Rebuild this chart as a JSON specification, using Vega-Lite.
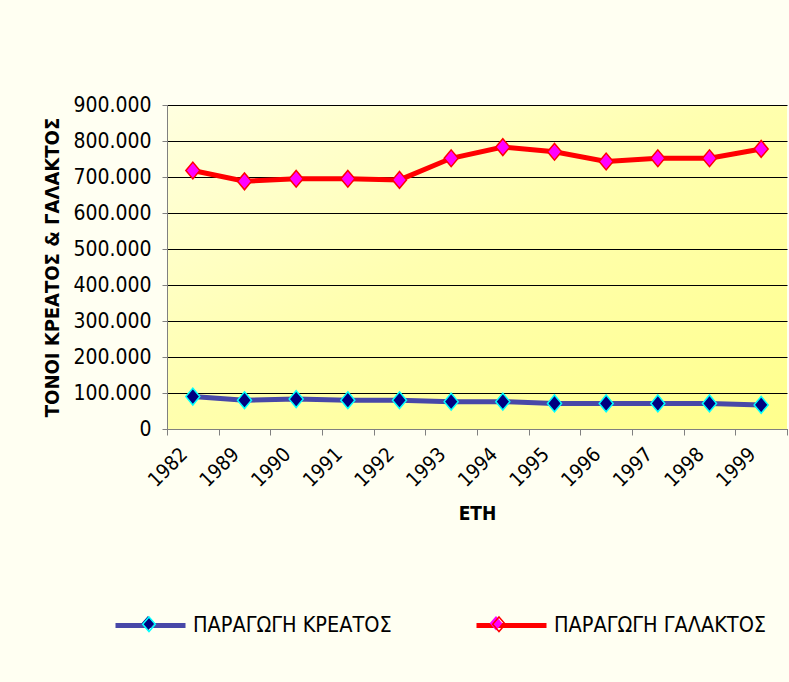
{
  "$schema": "https://vega.github.io/schema/vega-lite/v6.json",
  "autosize": {"type": "none"},
  "width": 620,
  "height": 324,
  "padding": {"left": 167, "top": 105, "right": 2, "bottom": 253},
  "background": "#fffff2",
  "config": {
    "locale": {"number": {"decimal": ",", "thousands": ".", "grouping": [3], "currency": ["", " €"]}},
    "font": "DejaVu Sans Condensed",
    "view": {
      "stroke": null,
      "fill": {"gradient": "linear", "x1": 0, "y1": 0, "x2": 1, "y2": 1,
        "stops": [{"offset": 0, "color": "#ffffe0"}, {"offset": 0.45, "color": "#ffffb0"}, {"offset": 1, "color": "#ffff8c"}]}
    }
  },
  "data": {"values": [
    {"year": "1982", "series": "ΠΑΡΑΓΩΓΗ ΚΡΕΑΤΟΣ", "value": 90000},
    {"year": "1989", "series": "ΠΑΡΑΓΩΓΗ ΚΡΕΑΤΟΣ", "value": 80000},
    {"year": "1990", "series": "ΠΑΡΑΓΩΓΗ ΚΡΕΑΤΟΣ", "value": 83000},
    {"year": "1991", "series": "ΠΑΡΑΓΩΓΗ ΚΡΕΑΤΟΣ", "value": 80000},
    {"year": "1992", "series": "ΠΑΡΑΓΩΓΗ ΚΡΕΑΤΟΣ", "value": 80000},
    {"year": "1993", "series": "ΠΑΡΑΓΩΓΗ ΚΡΕΑΤΟΣ", "value": 76000},
    {"year": "1994", "series": "ΠΑΡΑΓΩΓΗ ΚΡΕΑΤΟΣ", "value": 76000},
    {"year": "1995", "series": "ΠΑΡΑΓΩΓΗ ΚΡΕΑΤΟΣ", "value": 71000},
    {"year": "1996", "series": "ΠΑΡΑΓΩΓΗ ΚΡΕΑΤΟΣ", "value": 71000},
    {"year": "1997", "series": "ΠΑΡΑΓΩΓΗ ΚΡΕΑΤΟΣ", "value": 71000},
    {"year": "1998", "series": "ΠΑΡΑΓΩΓΗ ΚΡΕΑΤΟΣ", "value": 71000},
    {"year": "1999", "series": "ΠΑΡΑΓΩΓΗ ΚΡΕΑΤΟΣ", "value": 67000},
    {"year": "1982", "series": "ΠΑΡΑΓΩΓΗ ΓΑΛΑΚΤΟΣ", "value": 718000},
    {"year": "1989", "series": "ΠΑΡΑΓΩΓΗ ΓΑΛΑΚΤΟΣ", "value": 688000},
    {"year": "1990", "series": "ΠΑΡΑΓΩΓΗ ΓΑΛΑΚΤΟΣ", "value": 695000},
    {"year": "1991", "series": "ΠΑΡΑΓΩΓΗ ΓΑΛΑΚΤΟΣ", "value": 695000},
    {"year": "1992", "series": "ΠΑΡΑΓΩΓΗ ΓΑΛΑΚΤΟΣ", "value": 692000},
    {"year": "1993", "series": "ΠΑΡΑΓΩΓΗ ΓΑΛΑΚΤΟΣ", "value": 752000},
    {"year": "1994", "series": "ΠΑΡΑΓΩΓΗ ΓΑΛΑΚΤΟΣ", "value": 783000},
    {"year": "1995", "series": "ΠΑΡΑΓΩΓΗ ΓΑΛΑΚΤΟΣ", "value": 770000},
    {"year": "1996", "series": "ΠΑΡΑΓΩΓΗ ΓΑΛΑΚΤΟΣ", "value": 743000},
    {"year": "1997", "series": "ΠΑΡΑΓΩΓΗ ΓΑΛΑΚΤΟΣ", "value": 752000},
    {"year": "1998", "series": "ΠΑΡΑΓΩΓΗ ΓΑΛΑΚΤΟΣ", "value": 752000},
    {"year": "1999", "series": "ΠΑΡΑΓΩΓΗ ΓΑΛΑΚΤΟΣ", "value": 778000}
  ]},
  "encoding": {
    "x": {
      "field": "year", "type": "ordinal", "sort": null, "bandPosition": 0.5,
      "scale": {"type": "band", "paddingInner": 0, "paddingOuter": 0},
      "axis": {
        "title": "ΕΤΗ", "titleFont": "DejaVu Sans Condensed", "titleFontSize": 19, "titleFontWeight": "bold", "titleColor": "#000000",
        "titleY": 84, "titleBaseline": "middle",
        "labelAngle": -45, "labelAlign": "right", "labelBaseline": "middle", "labelOffset": -9,
        "labelFont": "DejaVu Sans Condensed", "labelFontSize": 20, "labelColor": "#000000", "labelPadding": 16,
        "tickBand": "extent", "tickSize": 6, "tickColor": "#808080", "domainColor": "#808080", "grid": false
      }
    },
    "y": {
      "field": "value", "type": "quantitative",
      "scale": {"domain": [0, 900000], "nice": false},
      "axis": {
        "title": "ΤΟΝΟΙ ΚΡΕΑΤΟΣ & ΓΑΛΑΚΤΟΣ", "titleFont": "DejaVu Sans Condensed", "titleFontSize": 20, "titleFontWeight": "bold", "titleColor": "#000000",
        "titleX": -115, "titleBaseline": "middle",
        "values": [0, 100000, 200000, 300000, 400000, 500000, 600000, 700000, 800000, 900000],
        "tickCount": 12,
        "format": ",d", "labelOverlap": false, "labelFlush": false,
        "labelFont": "DejaVu Sans Condensed", "labelFontSize": 21, "labelColor": "#000000", "labelPadding": 11,
        "tickSize": 5, "tickColor": "#808080", "domainColor": "#808080",
        "grid": true, "gridColor": "#000000", "gridWidth": 1
      }
    }
  },
  "layer": [
    {
      "mark": {"type": "line", "strokeWidth": 5},
      "encoding": {
        "color": {
          "field": "series", "type": "nominal",
          "scale": {"domain": ["ΠΑΡΑΓΩΓΗ ΚΡΕΑΤΟΣ", "ΠΑΡΑΓΩΓΗ ΓΑΛΑΚΤΟΣ"], "range": ["#4848a8", "#ff0000"]},
          "legend": {
            "orient": "none", "legendX": -54, "legendY": 483, "direction": "horizontal", "title": null,
            "symbolType": "stroke", "symbolSize": 4900, "symbolStrokeWidth": 5,
            "labelFont": "DejaVu Sans Condensed", "labelFontSize": 21.5, "labelColor": "#000000", "labelOffset": 5, "labelLimit": 400,
            "columnPadding": 74, "padding": 0
          }
        }
      }
    },
    {
      "mark": {"type": "point", "filled": true, "shape": "M0,-1.2L1,0L0,1.2L-1,0Z", "size": 196, "strokeWidth": 1.5, "opacity": 1},
      "encoding": {
        "fill": {
          "field": "series", "type": "nominal", "sort": ["ΠΑΡΑΓΩΓΗ ΚΡΕΑΤΟΣ", "ΠΑΡΑΓΩΓΗ ΓΑΛΑΚΤΟΣ"],
          "scale": {"range": ["#000080", "#ff00ff"]},
          "legend": {
            "orient": "none", "legendX": -54, "legendY": 483, "direction": "horizontal", "title": null,
            "symbolType": "M0,-0.21L0.18,0L0,0.21L-0.18,0Z", "symbolSize": 4900, "symbolStrokeWidth": 0,
            "symbolStrokeColor": "transparent",
            "labelFont": "DejaVu Sans Condensed", "labelFontSize": 21.5, "labelOpacity": 0, "labelOffset": 5, "labelLimit": 400,
            "columnPadding": 74, "padding": 0
          }
        },
        "stroke": {
          "field": "series", "type": "nominal", "sort": ["ΠΑΡΑΓΩΓΗ ΚΡΕΑΤΟΣ", "ΠΑΡΑΓΩΓΗ ΓΑΛΑΚΤΟΣ"],
          "scale": {"range": ["#00ffff", "#ff0000"]},
          "legend": {
            "orient": "none", "legendX": -54, "legendY": 483, "direction": "horizontal", "title": null,
            "symbolType": "M0,-0.21L0.18,0L0,0.21L-0.18,0Z", "symbolSize": 4900, "symbolStrokeWidth": 1.5,
            "symbolFillColor": "transparent",
            "labelFont": "DejaVu Sans Condensed", "labelFontSize": 21.5, "labelOpacity": 0, "labelOffset": 5, "labelLimit": 400,
            "columnPadding": 74, "padding": 0
          }
        }
      }
    }
  ]
}
